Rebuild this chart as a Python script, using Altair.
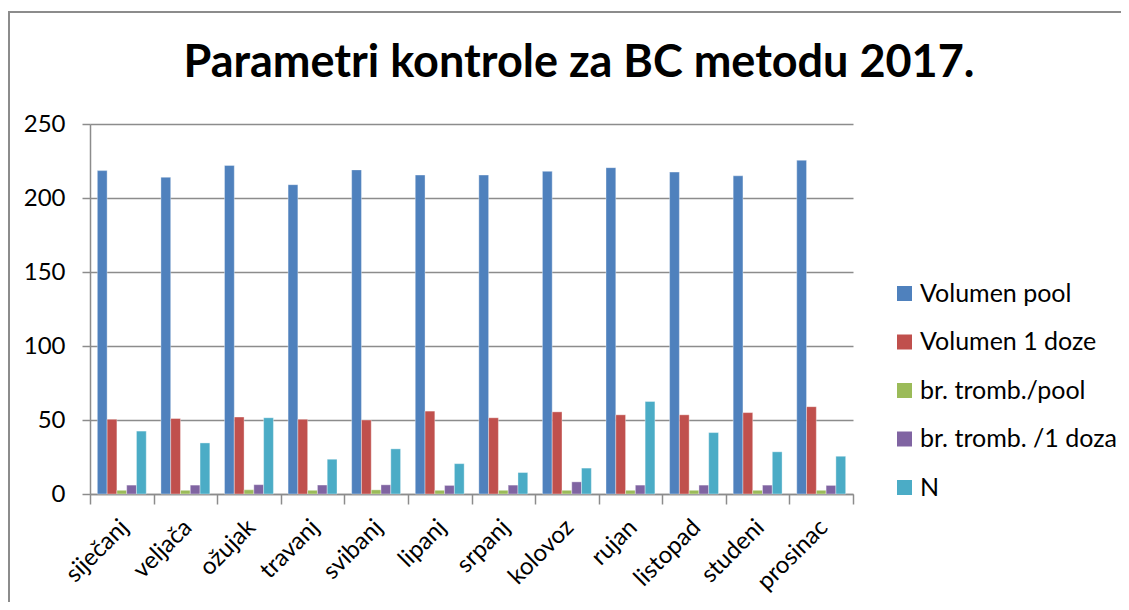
import altair as alt
import pandas as pd

months = ["siječanj", "veljača", "ožujak", "travanj", "svibanj", "lipanj",
          "srpanj", "kolovoz", "rujan", "listopad", "studeni", "prosinac"]
series = ["Volumen pool", "Volumen 1 doze", "br. tromb./pool", "br. tromb. /1 doza", "N"]
colors = ["#4F81BD", "#C0504D", "#9BBB59", "#8064A2", "#4BACC6"]
title_text = "Parametri kontrole za BC metodu 2017."

volumen_pool = [218.5, 214, 222, 209, 219, 215.5, 215.5, 218, 220.5, 217.5, 215, 225.5]
volumen_1_doze = [50.5, 51, 52, 50.5, 50, 56, 51.5, 55.5, 53.5, 53.5, 55, 59]
tromb_pool = [2.5, 2.5, 2.8, 2.5, 2.8, 2.5, 2.5, 2.5, 2.5, 2.5, 2.5, 2.5]
tromb_doza = [6, 6, 6.3, 6, 6.2, 5.8, 6, 8.2, 6, 6, 6, 5.8]
n_values = [42.5, 34.5, 51.5, 23.5, 30.5, 20.5, 14.5, 17.5, 62.5, 41.5, 28.5, 25.5]

all_series = [volumen_pool, volumen_1_doze, tromb_pool, tromb_doza, n_values]
rows = []
for s, vals in zip(series, all_series):
    for m, v in zip(months, vals):
        rows.append({"month": m, "series": s, "value": v})
df = pd.DataFrame(rows)

FONT = "Lato"
GRAY = "#8c8c8c"

bars = alt.Chart(df).mark_bar(stroke="white", strokeWidth=0.6, strokeOpacity=0.6).encode(
    x=alt.X("month:N", sort=months, title=None,
            scale=alt.Scale(paddingInner=0, paddingOuter=0),
            axis=alt.Axis(labelAngle=-45, labelFontSize=24, labelColor="black",
                          labelFont=FONT, tickBand="extent", tickSize=10,
                          tickColor=GRAY, domainColor=GRAY,
                          domainWidth=1.5, tickWidth=1.5, labelPadding=11,
                          labelOffset=-6, labelLimit=0, grid=False)),
    xOffset=alt.XOffset("series:N", sort=series,
                        scale=alt.Scale(paddingInner=0, paddingOuter=0.75)),
    y=alt.Y("value:Q", title=None,
            scale=alt.Scale(domain=[0, 250], nice=False),
            axis=alt.Axis(values=[0, 50, 100, 150, 200, 250], labelFontSize=24,
                          labelColor="black", labelFont=FONT, tickSize=8,
                          tickColor=GRAY, domainColor=GRAY,
                          domainWidth=1.5, tickWidth=1.5, labelPadding=17,
                          gridColor=GRAY, gridWidth=1.5)),
    color=alt.Color("series:N", sort=series,
                    scale=alt.Scale(domain=series, range=colors),
                    legend=alt.Legend(title=None, orient="none", legendX=802,
                                      legendY=157, labelFontSize=25,
                                      labelFont=FONT, labelColor="black",
                                      symbolType="square", symbolSize=225,
                                      symbolStrokeWidth=0, rowPadding=22.5,
                                      labelOffset=3, labelLimit=0)),
)

frame = alt.Chart(alt.Data(values=[{}])).mark_rect(
    fill="white", fillOpacity=0, stroke=GRAY, strokeWidth=2
).encode(
    x=alt.value(-81), x2=alt.value(1070), y=alt.value(-112), y2=alt.value(520)
)

title = alt.Chart(alt.Data(values=[{}])).mark_text(
    text=title_text, fontSize=45, font=FONT, fontWeight="bold", color="black",
    align="center", baseline="alphabetic"
).encode(x=alt.value(489), y=alt.value(-47))

chart = alt.layer(bars, frame, title).properties(
    width=763, height=370,
    autosize=alt.AutoSizeParams(type="none"),
    padding={"left": 82, "top": 116, "right": 268, "bottom": 108},
).configure_view(stroke=None).configure_axisX(grid=False)

chart.save("out.html", embed_options={"renderer": "svg", "actions": False})
